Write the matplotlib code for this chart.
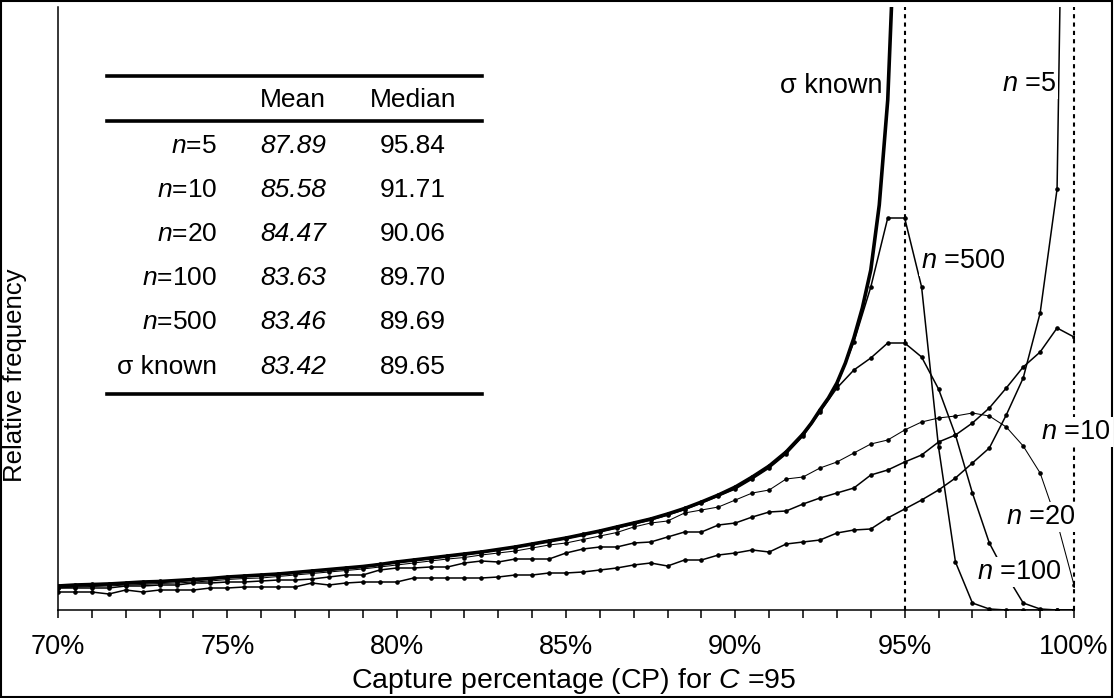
import matplotlib
matplotlib.use("Agg")
import matplotlib.pyplot as plt
from matplotlib.patches import Rectangle

plt.rcParams['font.family'] = ['Liberation Sans', 'DejaVu Sans']
plt.rcParams['mathtext.fontset'] = 'custom'
plt.rcParams['mathtext.rm'] = 'Liberation Sans'
plt.rcParams['mathtext.it'] = 'Liberation Sans:italic'

# ---------------- data ----------------
cp = [70 + 0.5 * i for i in range(61)]          # capture percentage bins (70% .. 100%)

# sigma known: theoretical density, read every 0.5% and every 0.25% near its pole at 95%
cp_sigma = [70 + 0.5 * i for i in range(44)] + [92, 92.25, 92.5, 92.75, 93, 93.25, 93.5,
                                                  93.75, 94, 94.25, 94.5, 94.75]
sigma_known = [24, 25, 25.5, 26, 27, 28, 28.5, 29.5, 30.5, 31.5, 33, 34, 35, 36, 37.5, 39, 40.5, 42,
               43.5, 45.5, 48, 50, 52, 54, 56, 58, 60.5, 63, 66, 69, 72, 75.5, 79, 83, 87, 91, 96,
               101.5, 108, 115, 123, 133, 144, 158,
               176, 187, 200, 212, 227, 247, 272, 302, 340, 405, 510, 720]

n5 = [18, 18, 18, 16, 20, 18, 20, 20, 20, 22, 22, 23, 23, 23, 23, 27, 25, 27, 28, 28, 28,
      32, 32, 32, 32, 32, 33, 35, 35, 37, 37, 38, 40, 42,
      45, 47, 44, 50, 50, 55, 57, 60, 58, 66, 68, 70, 77, 80, 81, 92, 101, 110, 120, 132, 147,
      162, 195, 232, 297, 421, 1500]

n10 = [22, 22, 22, 22, 24, 24, 25, 25, 27, 27, 28, 28, 29, 30, 30, 31, 33, 35, 35, 40, 42,
       42, 43, 43, 47, 49, 48, 51, 51, 51, 57, 61, 63, 63,
       67, 68, 73, 78, 78, 85, 87, 93, 98, 99, 106, 112, 117, 122, 135, 140, 148, 155, 168, 175,
       187, 202, 222, 243, 258, 282, 273]

n20 = [22, 23, 23.5, 24, 25, 25.5, 26.5, 27, 28, 29, 30.5, 31.5, 32, 33.5, 35, 36.5, 38, 39.5, 41,
       43, 45, 47, 49, 51, 52.5, 55, 57, 59, 62, 65, 67, 70.5, 74, 77.5, 83,
       87, 89, 97, 100, 103, 110, 117, 120, 131, 133, 142, 148, 157, 166, 170, 180, 188, 192, 194,
       197, 194, 183, 164, 137, 88, 25]

n100 = [23, 24, 25, 25.5, 26.5, 27, 28, 29, 30, 31, 32.5, 33.5, 34.5, 35.5, 37, 38.5, 40, 41.5, 43,
        45, 47.5, 49.5, 51.5, 53.5, 55.5, 57.5, 60, 62.5, 65.5, 68.5, 71.5, 75, 78.5, 82, 86, 90,
        95, 100.5, 107, 114, 121, 131, 142, 156, 174, 198,
        222, 240, 252, 267, 267, 253, 221, 175, 117, 67, 35, 7, 1, 0, 0]

n500 = [24.5, 25, 26, 26.5, 27, 28, 29, 29.5, 31, 31.5, 33, 34.5, 35, 36.5, 37.5, 39.5, 40.5, 42.5,
        43.5, 46, 48, 50.5, 52, 54.5, 56, 58.5, 60.5, 63.5, 66, 69.5, 72, 76, 79, 83.5, 87, 91.5,
        96, 102, 108, 115.5, 123, 133.5, 144, 158.5, 176, 200, 225,
        268, 323, 392, 392, 323, 163, 48, 7, 1, 0, 0, 0, 0, 0]

table_rows = ['$n$=5', '$n$=10', '$n$=20', '$n$=100', '$n$=500', 'σ known']
table_mean = ['87.89', '85.58', '84.47', '83.63', '83.46', '83.42']
table_median = ['95.84', '91.71', '90.06', '89.70', '89.69', '89.65']

xticks_major = [70, 75, 80, 85, 90, 95, 100]
xtick_labels = ['70%', '75%', '80%', '85%', '90%', '95%', '100%']
xticks_minor = list(range(70, 101))
ref_lines = [95, 100]

# ---------------- layout helpers ----------------
W, H = 1114, 698
fig = plt.figure(figsize=(W / 100, H / 100), dpi=100)

def fx(x):
    return x / W

def fy(y):
    return 1 - y / H

ax_left, ax_right, ax_top, ax_bottom = 58, 1074, 7, 610
ax = fig.add_axes([fx(ax_left), fy(ax_bottom), fx(ax_right - ax_left), (ax_bottom - ax_top) / H])
ax.set_xlim(70, 100)
ax.set_ylim(0, ax_bottom - ax_top)

for sp in ['top', 'right']:
    ax.spines[sp].set_visible(False)
for sp in ['left', 'bottom']:
    ax.spines[sp].set_linewidth(1.1)
ax.set_yticks([])
ax.set_xticks(xticks_major)
ax.set_xticklabels(xtick_labels, fontsize=19.5)
ax.set_xticks(xticks_minor, minor=True)
ax.tick_params(axis='x', which='both', direction='out', length=6, width=1.1, pad=11)

for xv in ref_lines:
    ax.axvline(xv, color='black', lw=1.5, ls=(0, (2, 2)), zorder=1, clip_on=False)

mk = dict(marker='o', markersize=2.3, color='black')
ax.plot(cp, n5, lw=1.1, zorder=3, **mk)
ax.plot(cp, n10, lw=1.1, zorder=3, **mk)
ax.plot(cp, n20, lw=0.75, zorder=3, **mk)
ax.plot(cp, n100, lw=1.1, zorder=3, **mk)
ax.plot(cp, n500, lw=1.1, zorder=3, **mk)
ax.plot(cp_sigma, sigma_known, lw=2.6, color='black', zorder=4)

# curve labels
lab_bbox = dict(facecolor='white', edgecolor='none', pad=1.5)
def curve_label(x, y, s, ha='left'):
    fig.text(fx(x), fy(y), s, fontsize=19.5, ha=ha, va='center', bbox=lab_bbox, zorder=10)

curve_label(882, 86, 'σ known', ha='right')
curve_label(1056, 84, '$n$ =5', ha='right')
curve_label(921, 261, '$n$ =500')
curve_label(1041, 432, '$n$ =10')
curve_label(1006, 517, '$n$ =20')
curve_label(977, 572, '$n$ =100')

# summary table
for yy in [76, 121, 394]:
    fig.add_artist(plt.Line2D([fx(107), fx(482)], [fy(yy), fy(yy)], color='black', lw=2.6))
fig.text(fx(293), fy(100), 'Mean', fontsize=19, ha='center', va='center')
fig.text(fx(413), fy(100), 'Median', fontsize=19, ha='center', va='center')
row_y = [146, 190, 234, 278, 322, 367]
for yy, lab, mn, md in zip(row_y, table_rows, table_mean, table_median):
    fig.text(fx(217), fy(yy), lab, fontsize=19, ha='right', va='center')
    fig.text(fx(293), fy(yy), mn, fontsize=19, ha='center', va='center', style='italic')
    fig.text(fx(413), fy(yy), md, fontsize=19, ha='center', va='center')

# axis titles
fig.text(fx(574), fy(681), 'Capture percentage (CP) for $C$ =95', fontsize=20.5, ha='center', va='center')
fig.text(fx(15), fy(375), 'Relative frequency', fontsize=18.5, ha='center', va='center', rotation=90)

# figure border
fig.add_artist(Rectangle((0.001, 0.001), 0.997, 0.997, transform=fig.transFigure,
                         fill=False, edgecolor='black', lw=1.5))

fig.savefig('out.png', dpi=100)
